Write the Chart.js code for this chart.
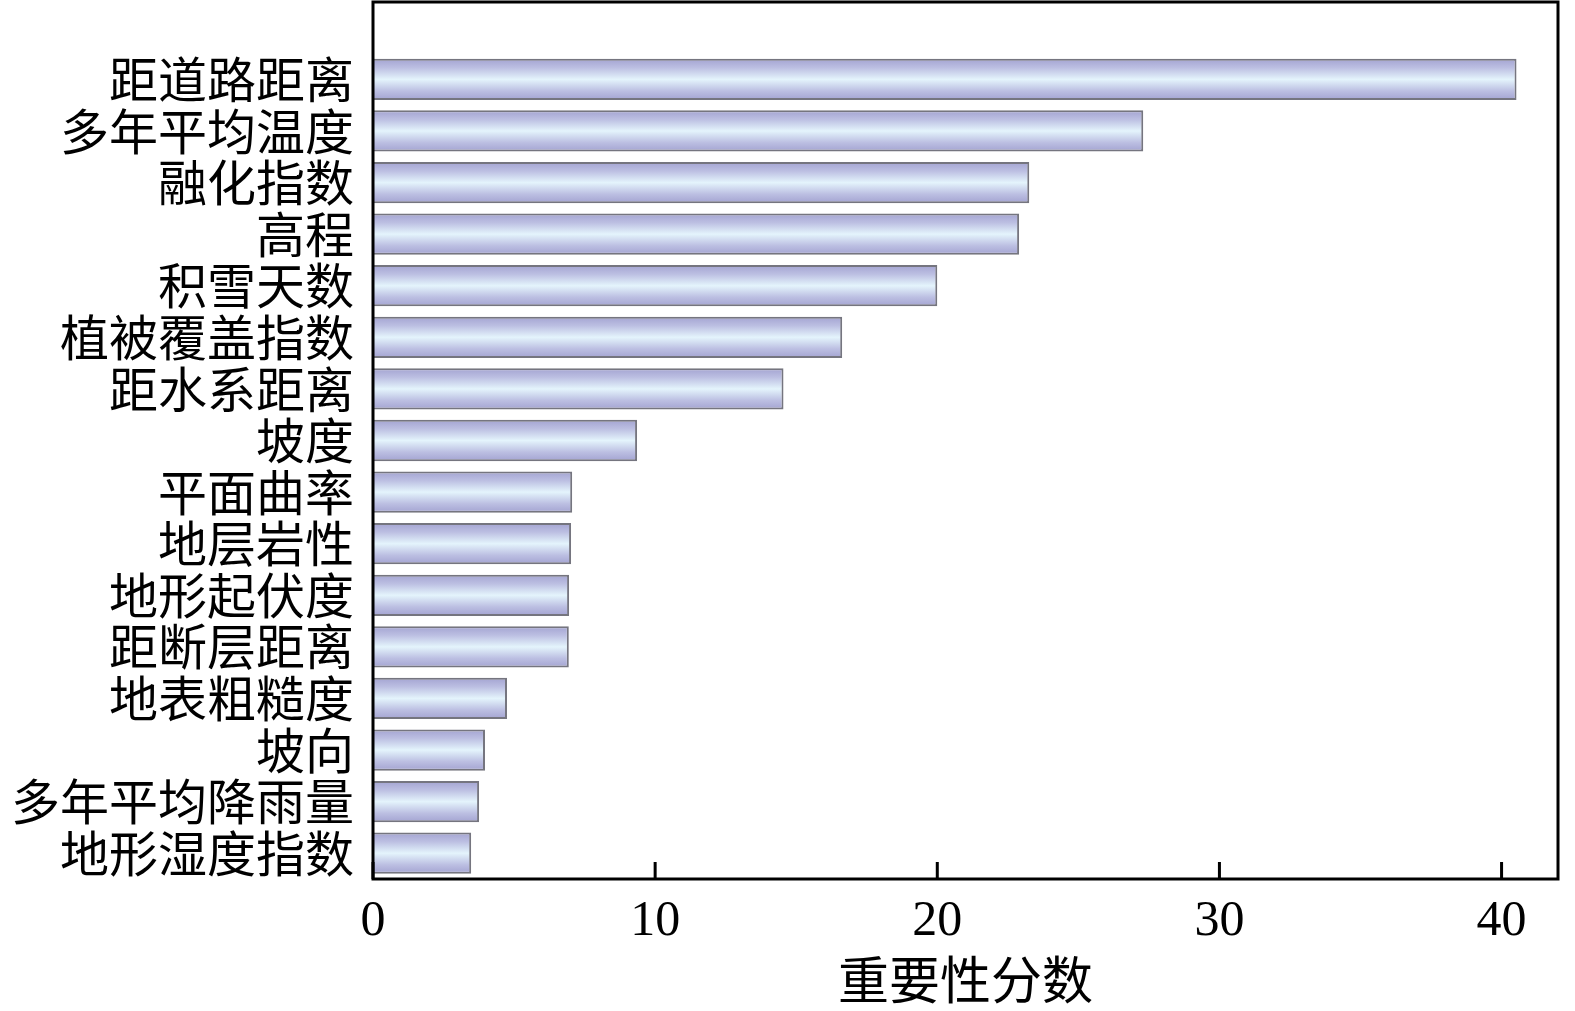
<!DOCTYPE html>
<html>
<head>
  <meta charset="utf-8">
  <title>重要性分数</title>
  <script src="https://cdn.jsdelivr.net/npm/chart.js"></script>
  <style>
    body { margin: 0; background: #fff; }
    #wrap { width: 1575px; height: 1011px; }
  </style>
</head>
<body>
  <div id="wrap">
    <canvas id="chart" width="1575" height="1011"></canvas>
  </div>
  <script>
    // factor names, top to bottom
    var factors = [
      '距道路距离', '多年平均温度', '融化指数', '高程', '积雪天数',
      '植被覆盖指数', '距水系距离', '坡度', '平面曲率', '地层岩性',
      '地形起伏度', '距断层距离', '地表粗糙度', '坡向', '多年平均降雨量',
      '地形湿度指数'
    ];
    var scores = [
      40.53, 27.3, 23.26, 22.9, 20.0,
      16.63, 14.55, 9.36, 7.06, 7.02,
      6.95, 6.94, 4.75, 3.97, 3.76,
      3.48
    ];
    var xTicks = [0, 10, 20, 30, 40];
    var xTitle = '重要性分数';

    // one blank slot above the first bar, as in the figure
    var labels = [''].concat(factors);
    var values = [null].concat(scores);

    var cjk = '"Noto Sans CJK SC", "Noto Sans CJK TC", sans-serif';
    var serif = '"Liberation Serif", "DejaVu Serif", serif';

    // vertical lavender/white gradient on every bar
    var barGradient = {
      id: 'barGradient',
      beforeDatasetsDraw: function(chart) {
        var ctx = chart.ctx;
        chart.getDatasetMeta(0).data.forEach(function(bar) {
          if (!bar || !isFinite(bar.y) || !bar.height) return;
          var top = bar.y - bar.height / 2;
          var g = ctx.createLinearGradient(0, top, 0, top + bar.height);
          g.addColorStop(0, '#a3a3d1');
          g.addColorStop(0.22, '#bcbfe2');
          g.addColorStop(0.5, '#e4f4fc');
          g.addColorStop(0.78, '#bcbfe2');
          g.addColorStop(1, '#a3a3d1');
          bar.options.backgroundColor = g;
        });
      }
    };

    // box round the plot and inward x ticks
    var frame = {
      id: 'frame',
      afterDraw: function(chart) {
        var ctx = chart.ctx;
        var a = chart.chartArea;
        var x = chart.scales.x;
        ctx.save();
        ctx.strokeStyle = '#000';
        ctx.lineWidth = 3;
        ctx.strokeRect(a.left, a.top, a.right - a.left, a.bottom - a.top);
        ctx.beginPath();
        xTicks.forEach(function(v) {
          var px = x.getPixelForValue(v);
          ctx.moveTo(px, a.bottom);
          ctx.lineTo(px, a.bottom - 17);
        });
        ctx.stroke();
        ctx.restore();
      }
    };

    new Chart(document.getElementById('chart'), {
      type: 'bar',
      data: {
        labels: labels,
        datasets: [{
          data: values,
          // scriptable so each bar keeps its own options (own gradient)
          backgroundColor: function() { return '#c6c6e6'; },
          borderColor: '#75757f',
          borderWidth: 2,
          borderSkipped: 'start',
          barPercentage: 0.8,
          categoryPercentage: 1
        }]
      },
      options: {
        indexAxis: 'y',
        responsive: false,
        animation: false,
        devicePixelRatio: 1,
        layout: { padding: { top: 2, right: 17, bottom: 0, left: 0 } },
        plugins: {
          legend: { display: false },
          tooltip: { enabled: false }
        },
        scales: {
          x: {
            min: 0,
            max: 42,
            grid: { display: false },
            border: { display: false },
            afterBuildTicks: function(axis) {
              axis.ticks = xTicks.map(function(v) { return { value: v }; });
            },
            afterFit: function(axis) {
              axis.height = 132;
              axis.paddingLeft = 0;
              axis.paddingRight = 0;
            },
            ticks: {
              padding: 5,
              color: '#000',
              font: { family: serif, size: 50 }
            },
            title: {
              display: true,
              text: xTitle,
              color: '#000',
              padding: { top: 0, bottom: 1 },
              font: { family: cjk, size: 51 }
            }
          },
          y: {
            grid: { display: false },
            border: { display: false },
            afterFit: function(axis) {
              axis.width = 373;
              axis.paddingTop = 0;
              axis.paddingBottom = 0;
            },
            ticks: {
              padding: 11,
              color: '#000',
              autoSkip: false,
              font: { family: cjk, size: 49 }
            }
          }
        }
      },
      plugins: [barGradient, frame]
    });
  </script>
</body>
</html>
